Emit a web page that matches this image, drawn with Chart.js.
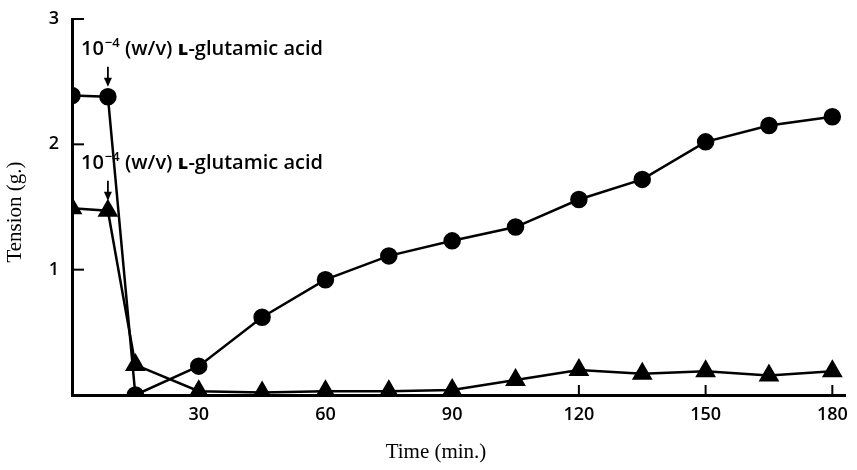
<!DOCTYPE html>
<html>
<head>
<meta charset="utf-8">
<script src="https://cdn.jsdelivr.net/npm/chart.js@4/dist/chart.umd.min.js"></script>
<style>
  html, body { margin: 0; padding: 0; background: #fff; }
  #wrap { width: 857px; height: 470px; }
</style>
</head>
<body>
<div id="wrap"><canvas id="tensionChart"></canvas></div>
<script>
// time points (min.) and tension (g.)
const times = [0, 8.5, 15, 30, 45, 60, 75, 90, 105, 120, 135, 150, 165, 180];
const circleTension = [2.39, 2.38, 0, 0.23, 0.62, 0.92, 1.11, 1.23, 1.34, 1.56, 1.72, 2.02, 2.15, 2.22];
const triangleTension = [1.49, 1.47, 0.24, 0.03, 0.02, 0.03, 0.03, 0.04, 0.12, 0.2, 0.17, 0.19, 0.155, 0.19];
const xTicks = [30, 60, 90, 120, 150, 180];
const yTicks = [1, 2, 3];
const noteText = ['10', '\u22124', ' (w/v) \u029F-glutamic acid'];

const sansFont = '"Open Sans", "DejaVu Sans", sans-serif';
const serifFont = '"Liberation Serif", "DejaVu Serif", serif';

function toPoints(values) {
    return times.map((t, i) => ({ x: t, y: values[i] }));
}

// inward tick marks, axis titles and the two arrow notes
const extras = {
    id: 'extras',
    afterDraw(chart) {
        const ctx = chart.ctx;
        const xs = chart.scales.x, ys = chart.scales.y;
        const area = chart.chartArea;
        ctx.save();
        ctx.strokeStyle = '#000';
        ctx.fillStyle = '#000';
        ctx.lineWidth = 2;
        xTicks.forEach(v => {
            const px = xs.getPixelForValue(v);
            ctx.beginPath();
            ctx.moveTo(px, area.bottom);
            ctx.lineTo(px, area.bottom - 10);
            ctx.stroke();
        });
        yTicks.forEach(v => {
            const py = ys.getPixelForValue(v);
            ctx.beginPath();
            ctx.moveTo(area.left, py);
            ctx.lineTo(area.left + 12, py);
            ctx.stroke();
        });

        // axis titles
        ctx.font = '21px ' + serifFont;
        ctx.textAlign = 'center';
        ctx.textBaseline = 'middle';
        ctx.fillText('Time (min.)', 436, 452);
        ctx.save();
        ctx.translate(15, 212);
        ctx.rotate(-Math.PI / 2);
        ctx.fillText('Tension (g.)', 0, 0);
        ctx.restore();

        // notes above the second point of each series
        [0, 1].forEach(di => {
            const pt = chart.getDatasetMeta(di).data[1];
            const ax = pt.x, ay = pt.y;
            ctx.lineWidth = 1.8;
            ctx.beginPath();
            ctx.moveTo(ax, ay - 30);
            ctx.lineTo(ax, ay - 12);
            ctx.stroke();
            ctx.beginPath();
            ctx.moveTo(ax - 4, ay - 19);
            ctx.lineTo(ax, ay - 10);
            ctx.lineTo(ax + 4, ay - 19);
            ctx.closePath();
            ctx.fill();

            let tx = 81;
            const ty = ay - 47;
            ctx.textAlign = 'left';
            ctx.textBaseline = 'middle';
            ctx.font = '600 20px ' + sansFont;
            ctx.fillText(noteText[0], tx, ty);
            tx += ctx.measureText(noteText[0]).width + 1;
            ctx.font = '600 13px ' + sansFont;
            ctx.fillText(noteText[1], tx, ty - 6);
            tx += ctx.measureText(noteText[1]).width;
            ctx.font = '600 20px ' + sansFont;
            ctx.fillText(noteText[2], tx, ty);
        });
        ctx.restore();
    }
};

new Chart(document.getElementById('tensionChart'), {
    type: 'scatter',
    data: {
        datasets: [{
            label: 'circles',
            data: toPoints(circleTension),
            showLine: true,
            borderColor: '#000',
            backgroundColor: '#000',
            borderWidth: 2.5,
            pointStyle: 'circle',
            pointRadius: 7.5,
            pointHoverRadius: 7.5
        }, {
            label: 'triangles',
            data: toPoints(triangleTension),
            showLine: true,
            borderColor: '#000',
            backgroundColor: '#000',
            borderWidth: 2.5,
            pointStyle: 'triangle',
            pointRadius: 9.5,
            pointHoverRadius: 9.5
        }]
    },
    options: {
        responsive: true,
        maintainAspectRatio: false,
        animation: false,
        layout: { padding: { top: 19, right: 12, left: 0, bottom: 0 } },
        plugins: {
            legend: { display: false },
            tooltip: { enabled: false }
        },
        scales: {
            x: {
                type: 'linear',
                min: 0,
                max: 183,
                grid: { display: false },
                border: { display: true, color: '#000', width: 3 },
                afterBuildTicks: s => { s.ticks = xTicks.map(v => ({ value: v })); },
                afterFit: s => { s.height = 75; },
                ticks: {
                    color: '#000',
                    padding: 1,
                    maxRotation: 0,
                    font: { family: sansFont, size: 18, weight: '600' }
                }
            },
            y: {
                min: 0,
                max: 3,
                grid: { display: false },
                border: { display: true, color: '#000', width: 3 },
                afterBuildTicks: s => { s.ticks = yTicks.map(v => ({ value: v })); },
                afterFit: s => { s.width = 72; },
                ticks: {
                    color: '#000',
                    padding: 5,
                    font: { family: sansFont, size: 18, weight: '600' }
                }
            }
        }
    },
    plugins: [extras]
});
</script>
</body>
</html>
